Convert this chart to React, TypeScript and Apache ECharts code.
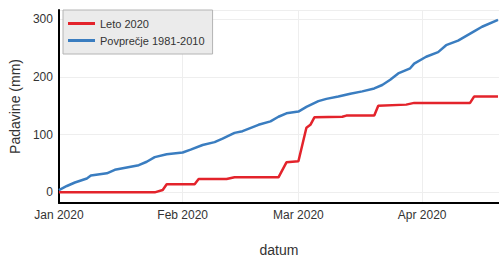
import React, { useEffect, useRef } from "react";
import * as echarts from "echarts";

const redDates = [
  "2020-01-01", "2020-01-25", "2020-01-27", "2020-01-28", "2020-02-04", "2020-02-05",
  "2020-02-12", "2020-02-14", "2020-02-25", "2020-02-27", "2020-03-01", "2020-03-03",
  "2020-03-04", "2020-03-05", "2020-03-12", "2020-03-13", "2020-03-20", "2020-03-21",
  "2020-03-28", "2020-03-30", "2020-04-13", "2020-04-14", "2020-04-20",
];
const redValues = [
  0, 0, 4, 14, 14, 23,
  23, 26, 26, 52, 54, 112,
  117, 130, 131, 133, 133, 150,
  152, 155, 155, 166, 166,
];

const blueDates = [
  "2020-01-01", "2020-01-03", "2020-01-05", "2020-01-08", "2020-01-09", "2020-01-13",
  "2020-01-15", "2020-01-18", "2020-01-21", "2020-01-23", "2020-01-25", "2020-01-28",
  "2020-02-01", "2020-02-03", "2020-02-06", "2020-02-09", "2020-02-11", "2020-02-14",
  "2020-02-16", "2020-02-20", "2020-02-23", "2020-02-25", "2020-02-27", "2020-03-01",
  "2020-03-03", "2020-03-06", "2020-03-08", "2020-03-11", "2020-03-14", "2020-03-17",
  "2020-03-20", "2020-03-22", "2020-03-24", "2020-03-26", "2020-03-29", "2020-03-30",
  "2020-04-02", "2020-04-05", "2020-04-07", "2020-04-10", "2020-04-14", "2020-04-16",
  "2020-04-20",
];
const blueValues = [
  4, 11, 17, 24, 29, 33,
  39, 43, 47, 53, 61, 66,
  69, 74, 82, 87, 93, 103,
  106, 117, 123, 131, 137, 140,
  148, 158, 162, 166, 171, 175,
  180, 186, 195, 206, 215, 223,
  235, 243, 255, 263, 279, 287,
  299,
];

const monthTicks = ["2020-01-01", "2020-02-01", "2020-03-01", "2020-04-01"];
const monthNames = ["Jan", "Feb", "Mar", "Apr", "May", "Jun", "Jul", "Aug", "Sep", "Oct", "Nov", "Dec"];
const seriesNames = ["Leto 2020", "Povprečje 1981-2010"];
const xStart = "2020-01-01";
const xEnd = "2020-04-20";

const FONT = "'Liberation Sans', Arial, sans-serif";

function ts(d: string): number {
  const [y, m, day] = d.split("-").map(Number);
  return Date.UTC(y, m - 1, day);
}

export default function App() {
  const ref = useRef<HTMLDivElement>(null);
  useEffect(() => {
    if (!ref.current) return;
    const chart = echarts.init(ref.current, null, { renderer: "svg" });
    const tickValues = monthTicks.map(ts);
    chart.setOption({
      animation: false,
      backgroundColor: "#ffffff",
      textStyle: { fontFamily: FONT },
      grid: { left: 58, top: 10, right: 0, bottom: 53, containLabel: false },
      legend: {
        orient: "vertical",
        left: 63,
        top: 10,
        backgroundColor: "#ebebeb",
        borderColor: "#b4b4b4",
        borderWidth: 1,
        borderRadius: 0,
        padding: [8, 8, 8, 5],
        itemGap: 6,
        itemWidth: 27,
        itemHeight: 3,
        icon: "rect",
        textStyle: { fontSize: 11, color: "#333", fontFamily: FONT },
        data: seriesNames,
      },
      xAxis: {
        type: "value",
        min: ts(xStart),
        max: ts(xEnd) + 6 * 3600 * 1000,
        name: "datum",
        nameLocation: "middle",
        nameGap: 40,
        nameTextStyle: { fontSize: 14, color: "#333", fontFamily: FONT },
        axisLine: { show: true, onZero: false, lineStyle: { color: "#000", width: 2 } },
        axisTick: { show: false, customValues: tickValues },
        axisLabel: {
          customValues: tickValues,
          fontSize: 12,
          color: "#333",
          margin: 6,
          fontFamily: FONT,
          formatter: (v: number) => {
            const d = new Date(v);
            return monthNames[d.getUTCMonth()] + " " + d.getUTCFullYear();
          },
        },
        splitLine: { show: true, lineStyle: { color: "#eeeeee", width: 1 } },
      },
      yAxis: {
        type: "value",
        min: -18.5,
        max: 316,
        minInterval: 100,
        maxInterval: 100,
        name: "Padavine (mm)",
        nameLocation: "middle",
        nameGap: 36,
        nameTextStyle: { fontSize: 14, color: "#333", fontFamily: FONT },
        axisLine: { show: true, onZero: false, lineStyle: { color: "#000", width: 2 } },
        axisTick: { show: false },
        axisLabel: {
          fontSize: 12,
          color: "#333",
          margin: 6,
          fontFamily: FONT,
          showMinLabel: false,
          showMaxLabel: false,
          formatter: (v: number) => (v % 100 === 0 ? String(v) : ""),
        },
        splitLine: { show: true, lineStyle: { color: "#eeeeee", width: 1 } },
      },
      series: [
        {
          name: seriesNames[0],
          type: "line",
          data: redDates.map((d, i) => [ts(d), redValues[i]]),
          showSymbol: false,
          symbol: "none",
          lineStyle: { color: "#e3232b", width: 2.5 },
          itemStyle: { color: "#e3232b" },
          z: 3,
        },
        {
          name: seriesNames[1],
          type: "line",
          data: blueDates.map((d, i) => [ts(d), blueValues[i]]),
          showSymbol: false,
          symbol: "none",
          lineStyle: { color: "#3a7dc0", width: 2.5 },
          itemStyle: { color: "#3a7dc0" },
          z: 2,
        },
      ],
    });
    return () => chart.dispose();
  }, []);
  return (
    <div
      ref={ref}
      style={{ position: "fixed", left: 0, top: 0, width: 499, height: 262 }}
    />
  );
}
